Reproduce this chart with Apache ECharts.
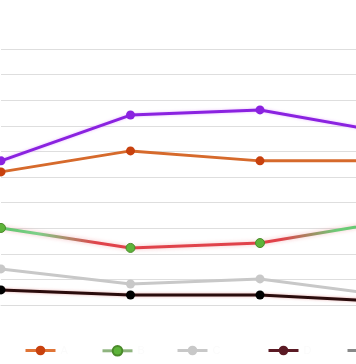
<!DOCTYPE html>
<html>
<head>
<meta charset="utf-8">
<script src="https://cdn.jsdelivr.net/npm/echarts@6/dist/echarts.min.js"></script>
<style>html,body{margin:0;padding:0;background:#fff}#c{width:356px;height:364px}</style>
</head>
<body>
<div id="c"></div>
<script>
var categories = ['1', '2', '3', '4'];
var seriesNames = ['A', 'B', 'C', 'D', 'E'];
var orangeValues = [52.0, 60.2, 56.3, 56.3];
var greenValues = [30.1, 22.3, 24.2, 32.7];
var greyValues = [14.1, 8.2, 10.2, 3.5];
var blackValues = [5.9, 3.9, 3.9, 1.3];
var purpleValues = [56.3, 74.2, 76.2, 67.2];
var yMin = 0, yMax = 100, yInterval = 10;

var chart = echarts.init(document.getElementById('c'));
var legendLefts = [24, 101, 176, 267, 346];
var legendColors = [
  {line: '#e07436', item: '#c8410e'},
  {line: '#8fb47f', item: '#5db43a'},
  {line: '#c8c8c8', item: '#c8c8c8'},
  {line: '#5b1a24', item: '#5b1a24'},
  {line: '#888888', item: '#888888'}
];
var legends = seriesNames.map(function (n, i) {
  return {
    left: legendLefts[i], top: 345, itemWidth: 30, itemHeight: 12, padding: 0,
    textStyle: {color: '#fbfbfb', fontSize: 11},
    data: [{name: n, itemStyle: {color: legendColors[i].item}, lineStyle: {color: legendColors[i].line, width: 3}}]
  };
});
var gradGreen = new echarts.graphic.LinearGradient(0, 0, 1, 0, [
  {offset: 0, color: '#5cc46a'},
  {offset: 0.1, color: '#7fd08a'},
  {offset: 0.25, color: '#e0424a'},
  {offset: 0.72, color: '#e0424a'},
  {offset: 0.86, color: '#6ccc78'},
  {offset: 1, color: '#5cc46a'}
]);
function mk(name, data, lineColor, itemColor, extra) {
  var s = {
    name: name, type: 'line', data: data, symbol: 'circle', symbolSize: 9,
    lineStyle: {color: lineColor, width: 3},
    itemStyle: {color: itemColor},
    emphasis: {disabled: true}
  };
  if (extra) for (var k in extra) s[k] = extra[k];
  return s;
}
chart.setOption({
  animation: false,
  legend: legends,
  grid: {left: 1, top: 49, width: 388.5, height: 256, containLabel: false, outerBoundsMode: 'none'},
  xAxis: {type: 'category', data: categories, boundaryGap: false,
    axisLine: {show: true, lineStyle: {color: '#dcdcdc'}}, axisTick: {show: false},
    axisLabel: {show: false}},
  yAxis: {type: 'value', min: yMin, max: yMax, interval: yInterval,
    axisLine: {show: false}, axisTick: {show: false}, axisLabel: {show: false},
    splitLine: {lineStyle: {color: '#dedede', width: 1}}},
  series: [
    mk(seriesNames[0], orangeValues, '#d66a2c', '#c8410e'),
    mk(seriesNames[1], greenValues, gradGreen, '#5db43a', {
      itemStyle: {color: '#5db43a', borderColor: '#4a8a2a', borderWidth: 1},
      lineStyle: {color: gradGreen, width: 3, shadowBlur: 4, shadowColor: 'rgba(230,80,90,0.35)'}
    }),
    mk(seriesNames[2], greyValues, '#c8c8c8', '#c8c8c8'),
    mk(seriesNames[3], blackValues, '#2a0c0c', '#000000', {
      lineStyle: {color: '#2a0c0c', width: 3, shadowBlur: 3, shadowColor: 'rgba(200,60,60,0.4)'}
    }),
    mk(seriesNames[4], purpleValues, '#8a22e0', '#8a22e0', {
      lineStyle: {color: '#8a22e0', width: 3, shadowBlur: 3, shadowColor: 'rgba(200,80,255,0.4)'}
    })
  ]
});
</script>
</body>
</html>
